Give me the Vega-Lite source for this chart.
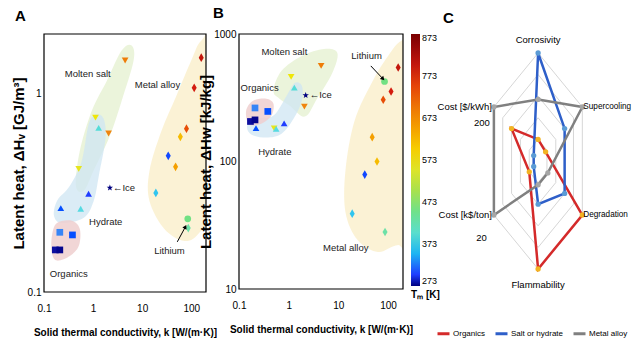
{
"$schema":"https://vega.github.io/schema/vega-lite/v6.json",
"background":"white",
"padding":{"left":11,"top":6,"right":0,"bottom":0},
"bounds":"flush",
"spacing":33,
"config":{
 "view":{"stroke":null},
 "font":"Liberation Sans, Arial, sans-serif",
 "axis":{"labelColor":"#000","titleColor":"#000","labelFont":"Liberation Sans, Arial, sans-serif","labelFontSize":10,"titleFont":"Liberation Sans, Arial, sans-serif","titleFontSize":10,"titleFontWeight":"bold","grid":false},
 "title":{"font":"Liberation Sans, Arial, sans-serif","fontSize":15,"fontWeight":"bold","anchor":"start","frame":"group","offset":8,"color":"#000"},
 "text":{"font":"Liberation Sans, Arial, sans-serif","fontSize":9.5,"color":"#222"}
},
"datasets":{
 "pcm":[
  {"type":"Molten salt","k":4.5,"Hv":1.47,"Hw":562,"Tm":690},
  {"type":"Molten salt","k":1.12,"Hv":0.757,"Hw":461,"Tm":570},
  {"type":"Hydrate","k":1.3,"Hv":0.673,"Hw":380,"Tm":390},
  {"type":"Molten salt","k":2.07,"Hv":0.63,"Hw":269,"Tm":680},
  {"type":"Molten salt","k":0.51,"Hv":0.418,"Hw":182,"Tm":560},
  {"type":"Ice","k":2.2,"Hv":0.335,"Hw":330,"Tm":273},
  {"type":"Hydrate","k":0.81,"Hv":0.313,"Hw":199,"Tm":300},
  {"type":"Hydrate","k":0.22,"Hv":0.265,"Hw":183,"Tm":305},
  {"type":"Hydrate","k":0.56,"Hv":0.263,"Hw":180,"Tm":380},
  {"type":"Organics","k":0.21,"Hv":0.2,"Hw":263,"Tm":325},
  {"type":"Organics","k":0.38,"Hv":0.194,"Hw":247,"Tm":305},
  {"type":"Organics","k":0.17,"Hv":0.163,"Hw":206,"Tm":280},
  {"type":"Organics","k":0.21,"Hv":0.163,"Hw":212,"Tm":276},
  {"type":"Metal alloy","k":160,"Hv":1.52,"Hw":546,"Tm":800},
  {"type":"Metal alloy","k":115,"Hv":1.07,"Hw":354,"Tm":785},
  {"type":"Metal alloy","k":80,"Hv":0.666,"Hw":305,"Tm":740},
  {"type":"Metal alloy","k":60,"Hv":0.606,"Hw":100,"Tm":620},
  {"type":"Metal alloy","k":48,"Hv":0.428,"Hw":155,"Tm":650},
  {"type":"Metal alloy","k":34,"Hv":0.486,"Hw":79,"Tm":303},
  {"type":"Metal alloy","k":19,"Hv":0.316,"Hw":39,"Tm":360},
  {"type":"Lithium","k":85,"Hv":0.234,"Hw":424,"Tm":454},
  {"type":"Metal alloy","k":87,"Hv":0.21,"Hw":28,"Tm":430}
 ],
 "radarAxes":[
  {"axis":"Corrosivity","angle":0},
  {"axis":"Supercooling","angle":60},
  {"axis":"Degradation","angle":120},
  {"axis":"Flammability","angle":180},
  {"axis":"Cost [k$/ton]","angle":240},
  {"axis":"Cost [$/kWh]","angle":300}
 ]
},
"resolve":{"scale":{"color":"independent","shape":"independent"},"legend":{"color":"independent"}},
"hconcat":[
 {
  "width":162,"height":258,
  "title":{"text":"A","dx":-29},
  "layer":[
   {"data":{"name":"pcm"},
    "mark":{"type":"point","filled":true,"size":45,"opacity":0},
    "encoding":{
     "x":{"field":"k","type":"quantitative","scale":{"type":"log","domain":[0.1,200],"nice":false},
      "axis":{"values":[0.1,1,10,100],"labelExpr":"format(datum.value, '~g')","labelFlush":false,"domain":false,"ticks":false,"tickSize":0,"labelPadding":11,"title":"Solid thermal conductivity,  k [W/(m·K)]","titlePadding":14}},
     "y":{"field":"Hv","type":"quantitative","scale":{"type":"log","domain":[0.1,2],"nice":false},
      "axis":{"values":[0.1,1],"labelExpr":"format(datum.value, '~g')","labelFlush":false,"domain":false,"ticks":false,"tickSize":0,"labelPadding":3,"title":"Latent heat,    ΔHᵥ  [GJ/m³]","titleFontSize":15,"titlePadding":1}}}},
   {"data":{"values":[
     {"i":1,"k":0.446,"H":0.343},{"i":2,"k":0.537,"H":0.515},{"i":3,"k":0.942,"H":0.82},{"i":4,"k":1.9,"H":1.16},{"i":5,"k":3.82,"H":1.65},{"i":6,"k":6.1,"H":1.75},{"i":7,"k":6.7,"H":1.47},{"i":8,"k":3.82,"H":0.92},{"i":9,"k":2.18,"H":0.61},{"i":10,"k":1.03,"H":0.41},{"i":11,"k":0.65,"H":0.324}]},
    "mark":{"type":"line","interpolate":"cardinal-closed","fill":"#e4f0cf","fillOpacity":0.75,"strokeOpacity":0,"clip":true},
    "encoding":{
     "x":{"field":"k","type":"quantitative","scale":{"type":"log","domain":[0.1,200],"nice":false}},
     "y":{"field":"H","type":"quantitative","scale":{"type":"log","domain":[0.1,2],"nice":false}},
     "order":{"field":"i"}}},
   {"data":{"values":[
     {"i":1,"k":0.16,"H":0.242},{"i":2,"k":0.184,"H":0.288},{"i":3,"k":0.337,"H":0.343},{"i":4,"k":0.59,"H":0.459},{"i":5,"k":0.857,"H":0.731},{"i":6,"k":1.5,"H":0.774},{"i":7,"k":1.81,"H":0.614},{"i":8,"k":1.31,"H":0.386},{"i":9,"k":1.03,"H":0.288},{"i":10,"k":0.647,"H":0.237},{"i":11,"k":0.232,"H":0.223}]},
    "mark":{"type":"line","interpolate":"cardinal-closed","fill":"#cfe5f3","fillOpacity":0.75,"strokeOpacity":0,"clip":true},
    "encoding":{
     "x":{"field":"k","type":"quantitative","scale":{"type":"log","domain":[0.1,200],"nice":false}},
     "y":{"field":"H","type":"quantitative","scale":{"type":"log","domain":[0.1,2],"nice":false}},
     "order":{"field":"i"}}},
   {"data":{"values":[
     {"i":1,"k":0.145,"H":0.192},{"i":2,"k":0.184,"H":0.223},{"i":3,"k":0.37,"H":0.229},{"i":4,"k":0.537,"H":0.208},{"i":5,"k":0.513,"H":0.171},{"i":6,"k":0.337,"H":0.152},{"i":7,"k":0.184,"H":0.144},{"i":8,"k":0.145,"H":0.157}]},
    "mark":{"type":"line","interpolate":"cardinal-closed","fill":"#efcfcf","fillOpacity":0.85,"strokeOpacity":0,"clip":true},
    "encoding":{
     "x":{"field":"k","type":"quantitative","scale":{"type":"log","domain":[0.1,200],"nice":false}},
     "y":{"field":"H","type":"quantitative","scale":{"type":"log","domain":[0.1,2],"nice":false}},
     "order":{"field":"i"}}},
   {"data":{"values":[
     {"i":1,"k":14.1,"H":0.408},{"i":2,"k":24.8,"H":0.65},{"i":3,"k":49.9,"H":0.977},{"i":4,"k":100,"H":1.47},{"i":5,"k":160,"H":1.85},{"i":6,"k":323,"H":1.85},{"i":7,"k":323,"H":0.288},{"i":8,"k":146,"H":0.199},{"i":9,"k":72.4,"H":0.181},{"i":10,"k":28.4,"H":0.208},{"i":11,"k":14.1,"H":0.288}]},
    "mark":{"type":"line","interpolate":"cardinal-closed","fill":"#fbf1d0","fillOpacity":0.9,"strokeOpacity":0,"clip":true},
    "encoding":{
     "x":{"field":"k","type":"quantitative","scale":{"type":"log","domain":[0.1,200],"nice":false}},
     "y":{"field":"H","type":"quantitative","scale":{"type":"log","domain":[0.1,2],"nice":false}},
     "order":{"field":"i"}}},
   {"data":{"values":[{"i":1,"k":0.1,"H":0.1},{"i":2,"k":200,"H":0.1},{"i":3,"k":200,"H":2},{"i":4,"k":0.1,"H":2}]},
    "mark":{"type":"line","interpolate":"linear-closed","color":"#000","strokeWidth":1.2,"opacity":1},
    "encoding":{
     "x":{"field":"k","type":"quantitative","scale":{"type":"log","domain":[0.1,200],"nice":false}},
     "y":{"field":"H","type":"quantitative","scale":{"type":"log","domain":[0.1,2],"nice":false}},
     "order":{"field":"i"}}},
   {"data":{"name":"pcm"},
    "mark":{"type":"point","filled":true,"size":45,"opacity":1,"strokeWidth":0},
    "encoding":{
     "x":{"field":"k","type":"quantitative","scale":{"type":"log","domain":[0.1,200],"nice":false}},
     "y":{"field":"Hv","type":"quantitative","scale":{"type":"log","domain":[0.1,2],"nice":false}},
     "color":{"field":"Tm","type":"quantitative","scale":{"type":"linear","domain":[273,300,330,373,423,473,523,573,673,773,873],"range":["#000080","#1f3dff","#4a90f0","#5ad8e8","#70e0b0","#80e060","#c8e040","#f2e600","#f08a10","#e02010","#7a0000"]},"legend":null},
     "shape":{"field":"type","type":"nominal","scale":{"domain":["Molten salt","Hydrate","Organics","Metal alloy","Ice","Lithium"],"range":["triangle-down","triangle-up","square","M0,-1.3L0.75,0L0,1.3L-0.75,0Z","M0,-1L0.235,-0.324L0.951,-0.309L0.38,0.124L0.588,0.809L0,0.4L-0.588,0.809L-0.38,0.124L-0.951,-0.309L-0.235,-0.324Z","circle"]},"legend":null}}},
   {"data":{"values":[
     {"k":0.78,"H":1.25,"label":"Molten salt"},{"k":20.5,"H":1.1,"label":"Metal alloy"},{"k":1.81,"H":0.226,"label":"Hydrate"},{"k":0.32,"H":0.123,"label":"Organics"},{"k":36,"H":0.161,"label":"Lithium"}]},
    "mark":{"type":"text","align":"center","baseline":"middle"},
    "encoding":{
     "x":{"field":"k","type":"quantitative","scale":{"type":"log","domain":[0.1,200],"nice":false}},
     "y":{"field":"H","type":"quantitative","scale":{"type":"log","domain":[0.1,2],"nice":false}},
     "text":{"field":"label"}}},
   {"data":{"name":"pcm"},"transform":[{"filter":"datum.type == 'Ice'"}],
    "mark":{"type":"text","align":"left","baseline":"middle","dx":3},
    "encoding":{
     "x":{"field":"k","type":"quantitative","scale":{"type":"log","domain":[0.1,200],"nice":false}},
     "y":{"field":"Hv","type":"quantitative","scale":{"type":"log","domain":[0.1,2],"nice":false}},
     "text":{"value":"←Ice"}}},
   {"data":{"values":[{"k":52,"H":0.179,"k2":76,"H2":0.213}]},
    "mark":{"type":"rule","color":"#000","strokeWidth":1},
    "encoding":{
     "x":{"field":"k","type":"quantitative","scale":{"type":"log","domain":[0.1,200],"nice":false}},
     "y":{"field":"H","type":"quantitative","scale":{"type":"log","domain":[0.1,2],"nice":false}},
     "x2":{"field":"k2"},"y2":{"field":"H2"}}},
   {"data":{"values":[{"k":76,"H":0.213}]},
    "mark":{"type":"point","shape":"triangle-up","filled":true,"color":"#000","size":22,"angle":28,"opacity":1},
    "encoding":{
     "x":{"field":"k","type":"quantitative","scale":{"type":"log","domain":[0.1,200],"nice":false}},
     "y":{"field":"H","type":"quantitative","scale":{"type":"log","domain":[0.1,2],"nice":false}}}}
  ]
 },
 {
  "width":164,"height":255,
  "title":{"text":"B","dx":-26},
  "layer":[
   {"data":{"name":"pcm"},
    "mark":{"type":"point","filled":true,"size":45,"opacity":0},
    "encoding":{
     "x":{"field":"k","type":"quantitative","scale":{"type":"log","domain":[0.1,200],"nice":false},
      "axis":{"values":[0.1,1,10,100],"labelExpr":"format(datum.value, '~g')","labelFlush":false,"domain":false,"ticks":false,"tickSize":0,"labelPadding":11,"title":"Solid thermal conductivity,  k [W/(m·K)]","titlePadding":14}},
     "y":{"field":"Hw","type":"quantitative","scale":{"type":"log","domain":[10,1000],"nice":false},
      "axis":{"values":[10,100,1000],"labelExpr":"format(datum.value, '~g')","labelFlush":false,"domain":false,"ticks":false,"tickSize":0,"labelPadding":3,"title":"Latent heat,    ΔHw  [kJ/kg]","titleFontSize":15,"titlePadding":0}}}},
   {"data":{"values":[
     {"i":1,"k":0.494,"H":359},{"i":2,"k":0.719,"H":514},{"i":3,"k":1.84,"H":673},{"i":4,"k":5.18,"H":764},{"i":5,"k":9.55,"H":711},{"i":6,"k":7.55,"H":495},{"i":7,"k":3.72,"H":311},{"i":8,"k":2.12,"H":225},{"i":9,"k":1.05,"H":274},{"i":10,"k":0.655,"H":311}]},
    "mark":{"type":"line","interpolate":"cardinal-closed","fill":"#e4f0cf","fillOpacity":0.75,"strokeOpacity":0,"clip":true},
    "encoding":{
     "x":{"field":"k","type":"quantitative","scale":{"type":"log","domain":[0.1,200],"nice":false}},
     "y":{"field":"H","type":"quantitative","scale":{"type":"log","domain":[10,1000],"nice":false}},
     "order":{"field":"i"}}},
   {"data":{"values":[
     {"i":1,"k":0.146,"H":191},{"i":2,"k":0.222,"H":217},{"i":3,"k":0.494,"H":229},{"i":4,"k":0.91,"H":328},{"i":5,"k":1.33,"H":414},{"i":6,"k":1.84,"H":393},{"i":7,"k":1.84,"H":300},{"i":8,"k":1.26,"H":217},{"i":9,"k":0.719,"H":165},{"i":10,"k":0.356,"H":154},{"i":11,"k":0.176,"H":163}]},
    "mark":{"type":"line","interpolate":"cardinal-closed","fill":"#cfe5f3","fillOpacity":0.75,"strokeOpacity":0,"clip":true},
    "encoding":{
     "x":{"field":"k","type":"quantitative","scale":{"type":"log","domain":[0.1,200],"nice":false}},
     "y":{"field":"H","type":"quantitative","scale":{"type":"log","domain":[10,1000],"nice":false}},
     "order":{"field":"i"}}},
   {"data":{"values":[
     {"i":1,"k":0.139,"H":250},{"i":2,"k":0.193,"H":300},{"i":3,"k":0.356,"H":311},{"i":4,"k":0.494,"H":284},{"i":5,"k":0.45,"H":229},{"i":6,"k":0.281,"H":198},{"i":7,"k":0.16,"H":195}]},
    "mark":{"type":"line","interpolate":"cardinal-closed","fill":"#efcfcf","fillOpacity":0.85,"strokeOpacity":0,"clip":true},
    "encoding":{
     "x":{"field":"k","type":"quantitative","scale":{"type":"log","domain":[0.1,200],"nice":false}},
     "y":{"field":"H","type":"quantitative","scale":{"type":"log","domain":[10,1000],"nice":false}},
     "order":{"field":"i"}}},
   {"data":{"values":[
     {"i":1,"k":21.2,"H":209},{"i":2,"k":49.4,"H":430},{"i":3,"k":100,"H":673},{"i":4,"k":184,"H":882},{"i":5,"k":409,"H":882},{"i":6,"k":409,"H":20.2},{"i":7,"k":160,"H":22.1},{"i":8,"k":62.5,"H":19.5},{"i":9,"k":24.4,"H":24.2},{"i":10,"k":13.9,"H":40},{"i":11,"k":13.9,"H":85}]},
    "mark":{"type":"line","interpolate":"cardinal-closed","fill":"#fbf1d0","fillOpacity":0.9,"strokeOpacity":0,"clip":true},
    "encoding":{
     "x":{"field":"k","type":"quantitative","scale":{"type":"log","domain":[0.1,200],"nice":false}},
     "y":{"field":"H","type":"quantitative","scale":{"type":"log","domain":[10,1000],"nice":false}},
     "order":{"field":"i"}}},
   {"data":{"values":[{"i":1,"k":0.1,"H":10},{"i":2,"k":200,"H":10},{"i":3,"k":200,"H":1000},{"i":4,"k":0.1,"H":1000}]},
    "mark":{"type":"line","interpolate":"linear-closed","color":"#000","strokeWidth":1.2,"opacity":1},
    "encoding":{
     "x":{"field":"k","type":"quantitative","scale":{"type":"log","domain":[0.1,200],"nice":false}},
     "y":{"field":"H","type":"quantitative","scale":{"type":"log","domain":[10,1000],"nice":false}},
     "order":{"field":"i"}}},
   {"data":{"name":"pcm"},
    "mark":{"type":"point","filled":true,"size":45,"opacity":1,"strokeWidth":0},
    "encoding":{
     "x":{"field":"k","type":"quantitative","scale":{"type":"log","domain":[0.1,200],"nice":false}},
     "y":{"field":"Hw","type":"quantitative","scale":{"type":"log","domain":[10,1000],"nice":false}},
     "color":{"field":"Tm","type":"quantitative","scale":{"type":"linear","domain":[273,300,330,373,423,473,523,573,673,773,873],"range":["#000080","#1f3dff","#4a90f0","#5ad8e8","#70e0b0","#80e060","#c8e040","#f2e600","#f08a10","#e02010","#7a0000"]},
      "legend":{"title":"Tₘ [K]","orient":"right","offset":8,"direction":"vertical","gradientLength":252,"gradientThickness":9,"gradientStrokeWidth":0,"values":[273,373,473,573,673,773,873],"titleOrient":"bottom","titleFontSize":10,"titleFontWeight":"bold","titleColor":"#000","labelFontSize":9,"labelColor":"#000","labelOverlap":false,"labelOffset":2,"titlePadding":4}},
     "shape":{"field":"type","type":"nominal","scale":{"domain":["Molten salt","Hydrate","Organics","Metal alloy","Ice","Lithium"],"range":["triangle-down","triangle-up","square","M0,-1.3L0.75,0L0,1.3L-0.75,0Z","M0,-1L0.235,-0.324L0.951,-0.309L0.38,0.124L0.588,0.809L0,0.4L-0.588,0.809L-0.38,0.124L-0.951,-0.309L-0.235,-0.324Z","circle"]},"legend":null}}},
   {"data":{"values":[
     {"k":0.82,"H":728,"label":"Molten salt"},{"k":0.26,"H":376,"label":"Organics"},{"k":0.525,"H":118,"label":"Hydrate"},{"k":37,"H":673,"label":"Lithium"},{"k":14.1,"H":20.8,"label":"Metal alloy"}]},
    "mark":{"type":"text","align":"center","baseline":"middle"},
    "encoding":{
     "x":{"field":"k","type":"quantitative","scale":{"type":"log","domain":[0.1,200],"nice":false}},
     "y":{"field":"H","type":"quantitative","scale":{"type":"log","domain":[10,1000],"nice":false}},
     "text":{"field":"label"}}},
   {"data":{"name":"pcm"},"transform":[{"filter":"datum.type == 'Ice'"}],
    "mark":{"type":"text","align":"left","baseline":"middle","dx":4},
    "encoding":{
     "x":{"field":"k","type":"quantitative","scale":{"type":"log","domain":[0.1,200],"nice":false}},
     "y":{"field":"Hw","type":"quantitative","scale":{"type":"log","domain":[10,1000],"nice":false}},
     "text":{"value":"←Ice"}}},
   {"data":{"values":[{"k":45,"H":562,"k2":79,"H2":445}]},
    "mark":{"type":"rule","color":"#000","strokeWidth":1},
    "encoding":{
     "x":{"field":"k","type":"quantitative","scale":{"type":"log","domain":[0.1,200],"nice":false}},
     "y":{"field":"H","type":"quantitative","scale":{"type":"log","domain":[10,1000],"nice":false}},
     "x2":{"field":"k2"},"y2":{"field":"H2"}}},
   {"data":{"values":[{"k":79,"H":445}]},
    "mark":{"type":"point","shape":"triangle-up","filled":true,"color":"#000","size":22,"angle":137,"opacity":1},
    "encoding":{
     "x":{"field":"k","type":"quantitative","scale":{"type":"log","domain":[0.1,200],"nice":false}},
     "y":{"field":"H","type":"quantitative","scale":{"type":"log","domain":[10,1000],"nice":false}}}}
  ]
 },
 {
  "width":194,"height":270,
  "title":{"text":"C","dx":7},
  "layer":[
   {"data":{"values":[
     {"level":0.2,"angle":[0,60,120,180,240,300]},{"level":0.4,"angle":[0,60,120,180,240,300]},{"level":0.6,"angle":[0,60,120,180,240,300]},{"level":0.8,"angle":[0,60,120,180,240,300]},{"level":1,"angle":[0,60,120,180,240,300]}]},
    "transform":[{"flatten":["angle"]},{"calculate":"datum.level*sin(datum.angle*PI/180)","as":"x"},{"calculate":"datum.level*cos(datum.angle*PI/180)","as":"y"}],
    "mark":{"type":"line","interpolate":"linear-closed","stroke":"#d6d6d6","strokeWidth":1},
    "encoding":{
     "x":{"field":"x","type":"quantitative","scale":{"domain":[-2,1.8],"nice":false,"zero":false},"axis":null},
     "y":{"field":"y","type":"quantitative","scale":{"domain":[-1.324,1.176],"nice":false,"zero":false},"axis":null},
     "detail":{"field":"level","type":"nominal"},
     "order":{"field":"angle"}}},
   {"data":{"values":[
     {"series":"Organics","angle":0,"value":0.2},{"series":"Organics","angle":60,"value":0.17},{"series":"Organics","angle":120,"value":1},{"series":"Organics","angle":180,"value":1},{"series":"Organics","angle":240,"value":0.2},{"series":"Organics","angle":300,"value":0.6},
     {"series":"Salt or hydrate","angle":0,"value":1},{"series":"Salt or hydrate","angle":60,"value":0.6},{"series":"Salt or hydrate","angle":120,"value":0.6},{"series":"Salt or hydrate","angle":180,"value":0.4},{"series":"Salt or hydrate","angle":240,"value":0.1},{"series":"Salt or hydrate","angle":300,"value":0.1},
     {"series":"Metal alloy","angle":0,"value":0.57},{"series":"Metal alloy","angle":60,"value":1},{"series":"Metal alloy","angle":120,"value":0.22},{"series":"Metal alloy","angle":180,"value":0.22},{"series":"Metal alloy","angle":240,"value":1},{"series":"Metal alloy","angle":300,"value":1}]},
    "transform":[{"calculate":"datum.value*sin(datum.angle*PI/180)","as":"x"},{"calculate":"datum.value*cos(datum.angle*PI/180)","as":"y"}],
    "layer":[
     {"mark":{"type":"line","interpolate":"linear-closed","strokeWidth":2.5},
      "encoding":{
       "x":{"field":"x","type":"quantitative","scale":{"domain":[-2,1.8],"nice":false,"zero":false},"axis":null},
       "y":{"field":"y","type":"quantitative","scale":{"domain":[-1.324,1.176],"nice":false,"zero":false},"axis":null},
       "color":{"field":"series","type":"nominal","scale":{"domain":["Organics","Salt or hydrate","Metal alloy"],"range":["#d42a2a","#2e5fc9","#808080"]},
        "legend":{"orient":"bottom","direction":"horizontal","title":null,"symbolType":"stroke","symbolStrokeWidth":3,"symbolSize":144,"labelFontSize":8,"labelColor":"#000","offset":22,"columnPadding":3,"labelOffset":2,"padding":0}},
       "order":{"field":"angle"}}},
     {"mark":{"type":"circle","size":28,"opacity":1},
      "encoding":{
       "x":{"field":"x","type":"quantitative","scale":{"domain":[-2,1.8],"nice":false,"zero":false},"axis":null},
       "y":{"field":"y","type":"quantitative","scale":{"domain":[-1.324,1.176],"nice":false,"zero":false},"axis":null},
       "fill":{"field":"series","type":"nominal","scale":{"domain":["Organics","Salt or hydrate","Metal alloy"],"range":["#f2b323","#5b9bd5","#a6a6a6"]},"legend":null}}}
    ]},
   {"data":{"name":"radarAxes"},
    "transform":[{"calculate":"sin(datum.angle*PI/180)","as":"x"},{"calculate":"cos(datum.angle*PI/180)","as":"y"}],
    "layer":[
     {"transform":[{"filter":"datum.angle == 0"}],"mark":{"type":"text","align":"center","baseline":"middle","dy":-13,"fontSize":9.5,"color":"#000"},
      "encoding":{"x":{"field":"x","type":"quantitative","scale":{"domain":[-2,1.8],"nice":false,"zero":false},"axis":null},"y":{"field":"y","type":"quantitative","scale":{"domain":[-1.324,1.176],"nice":false,"zero":false},"axis":null},"text":{"field":"axis"}}},
     {"transform":[{"filter":"datum.angle == 60 || datum.angle == 120"}],"mark":{"type":"text","align":"left","baseline":"middle","dx":1,"fontSize":8.2,"color":"#000"},
      "encoding":{"x":{"field":"x","type":"quantitative","scale":{"domain":[-2,1.8],"nice":false,"zero":false},"axis":null},"y":{"field":"y","type":"quantitative","scale":{"domain":[-1.324,1.176],"nice":false,"zero":false},"axis":null},"text":{"field":"axis"}}},
     {"transform":[{"filter":"datum.angle == 180"}],"mark":{"type":"text","align":"center","baseline":"middle","dy":16,"fontSize":9.5,"color":"#000"},
      "encoding":{"x":{"field":"x","type":"quantitative","scale":{"domain":[-2,1.8],"nice":false,"zero":false},"axis":null},"y":{"field":"y","type":"quantitative","scale":{"domain":[-1.324,1.176],"nice":false,"zero":false},"axis":null},"text":{"field":"axis"}}},
     {"transform":[{"filter":"datum.angle == 240 || datum.angle == 300"}],"mark":{"type":"text","align":"right","baseline":"middle","dx":-2,"fontSize":9.5,"color":"#000"},
      "encoding":{"x":{"field":"x","type":"quantitative","scale":{"domain":[-2,1.8],"nice":false,"zero":false},"axis":null},"y":{"field":"y","type":"quantitative","scale":{"domain":[-1.324,1.176],"nice":false,"zero":false},"axis":null},"text":{"field":"axis"}}},
     {"transform":[{"filter":"datum.angle == 300"}],"mark":{"type":"text","align":"right","baseline":"middle","dx":-4,"dy":16,"fontSize":9.5,"color":"#000"},
      "encoding":{"x":{"field":"x","type":"quantitative","scale":{"domain":[-2,1.8],"nice":false,"zero":false},"axis":null},"y":{"field":"y","type":"quantitative","scale":{"domain":[-1.324,1.176],"nice":false,"zero":false},"axis":null},"text":{"value":"200"}}},
     {"transform":[{"filter":"datum.angle == 240"}],"mark":{"type":"text","align":"right","baseline":"middle","dx":-7,"dy":23,"fontSize":9.5,"color":"#000"},
      "encoding":{"x":{"field":"x","type":"quantitative","scale":{"domain":[-2,1.8],"nice":false,"zero":false},"axis":null},"y":{"field":"y","type":"quantitative","scale":{"domain":[-1.324,1.176],"nice":false,"zero":false},"axis":null},"text":{"value":"20"}}}
    ]}
  ]
 }
]
}
